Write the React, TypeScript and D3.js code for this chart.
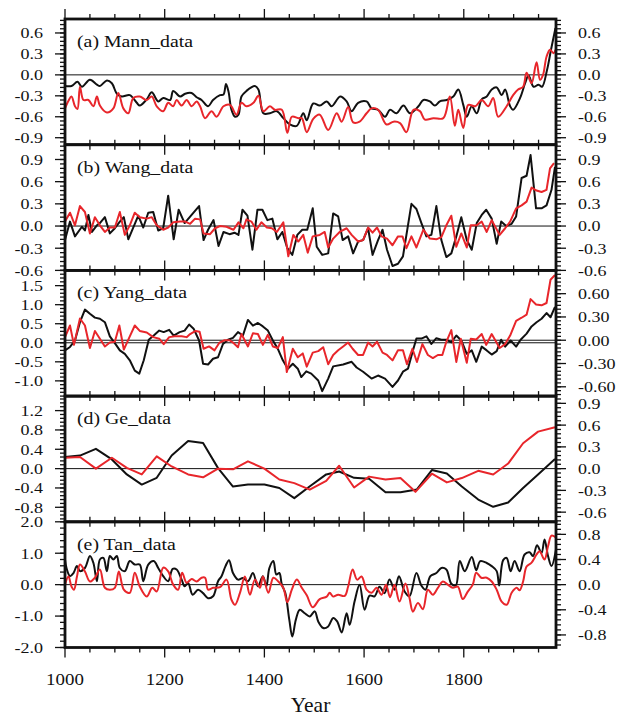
import React from "react";
import * as d3 from "d3";

// x axis
const xDomain = [1000, 1985];
const xMajorTicks = [1000, 1200, 1400, 1600, 1800];

// (a) Mann_data
const mannBlackYears = [1000, 1013, 1025, 1034, 1050, 1064, 1070, 1084, 1094, 1104, 1114, 1130, 1144, 1150, 1164, 1174, 1187, 1197, 1211, 1217, 1231, 1241, 1254, 1264, 1274, 1287, 1297, 1311, 1318, 1323, 1328, 1334, 1341, 1348, 1354, 1364, 1381, 1388, 1398, 1411, 1425, 1438, 1451, 1465, 1478, 1485, 1498, 1511, 1525, 1535, 1552, 1565, 1575, 1588, 1605, 1615, 1628, 1642, 1652, 1665, 1679, 1692, 1709, 1719, 1732, 1742, 1752, 1766, 1779, 1789, 1799, 1806, 1816, 1826, 1836, 1846, 1856, 1866, 1876, 1883, 1893, 1899, 1913, 1923, 1930, 1940, 1950, 1957, 1967, 1975, 1984];
const mannBlackVals = [-0.16, -0.16, -0.1, -0.17, -0.07, -0.14, -0.16, -0.08, -0.12, -0.27, -0.31, -0.29, -0.4, -0.44, -0.35, -0.25, -0.38, -0.33, -0.36, -0.23, -0.31, -0.27, -0.26, -0.32, -0.36, -0.45, -0.36, -0.29, -0.28, -0.13, -0.24, -0.5, -0.6, -0.57, -0.31, -0.23, -0.16, -0.21, -0.55, -0.55, -0.52, -0.62, -0.71, -0.73, -0.55, -0.65, -0.41, -0.44, -0.38, -0.45, -0.31, -0.38, -0.52, -0.4, -0.38, -0.48, -0.5, -0.6, -0.5, -0.55, -0.44, -0.55, -0.45, -0.36, -0.38, -0.44, -0.38, -0.36, -0.31, -0.21, -0.43, -0.6, -0.45, -0.55, -0.35, -0.31, -0.21, -0.18, -0.29, -0.21, -0.45, -0.5, -0.33, -0.12, -0.01, -0.17, -0.14, -0.17, 0.07, 0.36, 0.67];
const mannRedYears = [1000, 1007, 1013, 1020, 1025, 1030, 1037, 1047, 1057, 1064, 1070, 1084, 1097, 1107, 1117, 1127, 1137, 1150, 1164, 1174, 1184, 1197, 1207, 1217, 1224, 1234, 1244, 1254, 1264, 1271, 1281, 1294, 1304, 1318, 1331, 1344, 1354, 1364, 1378, 1388, 1398, 1411, 1421, 1435, 1446, 1455, 1468, 1475, 1485, 1498, 1511, 1528, 1545, 1555, 1568, 1578, 1591, 1605, 1615, 1628, 1645, 1659, 1672, 1685, 1699, 1712, 1722, 1739, 1759, 1772, 1782, 1789, 1799, 1809, 1823, 1836, 1849, 1859, 1869, 1886, 1899, 1909, 1919, 1926, 1936, 1946, 1953, 1959, 1966, 1973, 1980, 1984];
const mannRedVals = [-0.48, -0.37, -0.31, -0.45, -0.49, -0.17, -0.36, -0.36, -0.45, -0.31, -0.44, -0.54, -0.48, -0.26, -0.48, -0.55, -0.33, -0.31, -0.36, -0.31, -0.45, -0.52, -0.4, -0.45, -0.36, -0.44, -0.36, -0.45, -0.38, -0.45, -0.62, -0.52, -0.6, -0.45, -0.43, -0.57, -0.4, -0.45, -0.4, -0.3, -0.52, -0.45, -0.5, -0.5, -0.83, -0.6, -0.62, -0.62, -0.82, -0.63, -0.57, -0.79, -0.55, -0.67, -0.46, -0.68, -0.67, -0.55, -0.48, -0.5, -0.71, -0.67, -0.69, -0.82, -0.5, -0.52, -0.64, -0.62, -0.62, -0.31, -0.73, -0.5, -0.76, -0.43, -0.45, -0.36, -0.45, -0.33, -0.6, -0.45, -0.29, -0.21, -0.17, 0.03, -0.12, 0.18, -0.07, 0.0, 0.26, 0.36, 0.31, 0.36];

// (b) Wang_data
const wangBlackYears = [1000, 1010, 1020, 1034, 1040, 1047, 1054, 1064, 1070, 1080, 1090, 1100, 1110, 1118, 1127, 1147, 1157, 1167, 1177, 1187, 1197, 1207, 1218, 1228, 1240, 1254, 1269, 1278, 1287, 1298, 1308, 1318, 1330, 1340, 1348, 1356, 1366, 1376, 1386, 1396, 1406, 1416, 1426, 1436, 1446, 1456, 1466, 1476, 1486, 1497, 1505, 1516, 1528, 1538, 1548, 1557, 1568, 1578, 1588, 1598, 1608, 1617, 1628, 1637, 1646, 1657, 1668, 1678, 1695, 1705, 1715, 1725, 1735, 1745, 1755, 1765, 1775, 1785, 1795, 1806, 1816, 1826, 1836, 1845, 1856, 1866, 1875, 1885, 1896, 1905, 1916, 1926, 1934, 1945, 1956, 1966, 1976, 1983];
const wangBlackVals = [-0.19, 0.06, -0.14, -0.01, -0.06, 0.15, -0.08, 0.01, 0.04, 0.12, -0.1, -0.03, 0.06, 0.12, -0.18, 0.14, -0.02, 0.18, 0.19, -0.06, -0.03, 0.41, -0.18, 0.22, 0.04, 0.15, 0.27, -0.19, -0.05, 0.08, -0.27, -0.08, -0.11, -0.09, -0.12, 0.22, 0.14, -0.32, 0.22, 0.22, 0.08, 0.1, -0.18, -0.08, -0.3, -0.39, -0.12, -0.05, -0.05, 0.24, -0.28, -0.39, -0.37, 0.17, 0.13, -0.19, -0.14, -0.37, -0.21, -0.19, -0.03, -0.39, -0.19, -0.05, -0.32, -0.54, -0.51, -0.41, 0.3, 0.23, 0.04, -0.14, -0.12, 0.27, -0.19, -0.42, -0.37, -0.14, 0.12, -0.19, -0.32, 0.04, 0.15, 0.22, 0.1, -0.24, 0.06, 0.0, 0.03, 0.13, 0.65, 0.68, 0.96, 0.24, 0.24, 0.28, 0.49, 0.8];
const wangRedYears = [1000, 1010, 1020, 1030, 1040, 1050, 1060, 1070, 1080, 1090, 1100, 1110, 1120, 1130, 1140, 1150, 1164, 1174, 1184, 1197, 1207, 1217, 1231, 1241, 1251, 1261, 1271, 1278, 1291, 1301, 1311, 1324, 1338, 1348, 1358, 1364, 1374, 1384, 1394, 1405, 1415, 1425, 1438, 1448, 1458, 1468, 1478, 1487, 1497, 1511, 1521, 1528, 1538, 1551, 1565, 1575, 1588, 1598, 1608, 1617, 1626, 1635, 1646, 1657, 1668, 1677, 1685, 1695, 1705, 1719, 1732, 1745, 1755, 1765, 1775, 1785, 1795, 1806, 1814, 1826, 1836, 1846, 1856, 1872, 1883, 1893, 1905, 1916, 1926, 1936, 1946, 1956, 1966, 1973, 1981];
const wangRedVals = [0.06, 0.18, 0.01, 0.27, 0.19, -0.1, 0.12, 0.01, -0.08, -0.02, -0.02, 0.19, -0.12, 0.01, 0.18, 0.12, 0.1, 0.12, 0.01, -0.05, -0.02, 0.05, 0.06, 0.06, 0.03, 0.1, 0.09, -0.1, -0.11, -0.03, 0.0, -0.01, -0.05, 0.05, -0.03, 0.09, 0.06, -0.05, 0.05, -0.02, -0.03, -0.08, 0.05, -0.41, -0.12, -0.21, -0.12, -0.36, -0.14, -0.12, -0.08, -0.29, -0.17, -0.08, -0.03, -0.12, -0.21, -0.19, -0.02, -0.09, -0.02, -0.14, -0.17, -0.26, -0.14, -0.14, -0.3, -0.14, -0.29, -0.05, -0.17, -0.18, -0.15, 0.01, 0.14, -0.28, -0.1, -0.29, 0.01, 0.01, 0.06, -0.08, 0.08, -0.12, -0.03, 0.06, 0.24, 0.28, 0.33, 0.52, 0.48, 0.46, 0.49, 0.78, 0.85];

// (c) Yang_data (black on left axis, red on right axis)
const yangBlackYears = [1000, 1010, 1020, 1030, 1040, 1050, 1060, 1070, 1080, 1090, 1100, 1110, 1120, 1130, 1140, 1149, 1158, 1168, 1178, 1189, 1198, 1209, 1218, 1230, 1240, 1249, 1258, 1269, 1277, 1287, 1297, 1307, 1317, 1327, 1337, 1347, 1357, 1367, 1377, 1387, 1397, 1407, 1417, 1427, 1437, 1447, 1457, 1467, 1474, 1484, 1494, 1508, 1516, 1528, 1538, 1558, 1575, 1585, 1598, 1615, 1628, 1642, 1657, 1668, 1678, 1688, 1698, 1705, 1715, 1725, 1735, 1745, 1755, 1765, 1775, 1785, 1795, 1806, 1816, 1825, 1836, 1846, 1856, 1866, 1875, 1883, 1894, 1905, 1914, 1926, 1936, 1946, 1956, 1966, 1974, 1983];
const yangBlackVals = [-0.2, -0.11, 0.06, 0.54, 0.87, 0.76, 0.66, 0.63, 0.54, 0.17, -0.01, -0.2, -0.29, -0.46, -0.73, -0.81, -0.46, 0.08, 0.19, 0.32, 0.28, 0.34, 0.19, 0.28, 0.32, 0.48, 0.37, 0.06, -0.55, -0.57, -0.42, -0.38, -0.03, 0.08, 0.13, 0.28, 0.19, 0.6, 0.45, 0.52, 0.43, 0.32, 0.06, -0.16, -0.46, -0.68, -0.55, -0.68, -0.9, -0.75, -0.81, -0.99, -1.27, -0.94, -0.62, -0.57, -0.5, -0.65, -0.76, -0.94, -0.86, -0.94, -1.16, -0.99, -0.76, -0.68, -0.2, 0.11, 0.11, 0.17, -0.03, 0.12, 0.08, 0.08, 0.01, 0.19, 0.06, -0.29, -0.2, -0.5, -0.1, -0.2, -0.31, -0.22, 0.08, -0.1, 0.06, -0.1, 0.08, 0.24, 0.43, 0.54, 0.63, 0.78, 0.67, 0.94];
const yangRedYears = [1000, 1010, 1018, 1030, 1040, 1050, 1060, 1070, 1080, 1090, 1100, 1109, 1118, 1130, 1140, 1150, 1164, 1177, 1189, 1198, 1209, 1220, 1234, 1244, 1251, 1262, 1270, 1278, 1289, 1300, 1310, 1320, 1330, 1337, 1347, 1354, 1367, 1377, 1387, 1397, 1407, 1417, 1427, 1437, 1445, 1457, 1467, 1477, 1485, 1497, 1508, 1518, 1528, 1538, 1548, 1558, 1568, 1577, 1588, 1598, 1608, 1617, 1626, 1637, 1646, 1657, 1668, 1678, 1686, 1697, 1706, 1717, 1728, 1738, 1748, 1757, 1765, 1775, 1785, 1794, 1806, 1814, 1825, 1836, 1845, 1856, 1872, 1883, 1893, 1905, 1916, 1926, 1934, 1945, 1956, 1966, 1974, 1983];
const yangRedVals = [0.04, 0.19, -0.06, 0.28, 0.19, -0.1, 0.12, 0.02, -0.08, -0.03, -0.02, 0.19, -0.12, 0.05, 0.19, 0.12, 0.1, 0.04, 0.02, -0.05, 0.04, 0.05, 0.05, 0.04, 0.08, 0.12, 0.11, -0.11, -0.08, -0.13, -0.03, 0.0, 0.0, -0.03, -0.09, 0.08, -0.08, 0.09, 0.08, -0.06, 0.07, -0.08, -0.1, 0.04, -0.41, -0.11, -0.22, -0.17, -0.34, -0.16, -0.14, -0.09, -0.31, -0.19, -0.13, -0.08, -0.03, -0.11, -0.19, -0.19, -0.03, -0.08, -0.02, -0.16, -0.19, -0.26, -0.13, -0.13, -0.31, -0.11, -0.28, -0.05, -0.19, -0.23, -0.19, -0.19, -0.02, 0.13, -0.28, 0.02, -0.29, 0.02, 0.01, 0.08, -0.06, 0.08, -0.1, -0.05, 0.06, 0.25, 0.29, 0.33, 0.53, 0.46, 0.45, 0.48, 0.78, 0.84];

// (d) Ge_data (black on left axis, red on right axis)
const geBlackYears = [1000, 1030, 1062, 1094, 1124, 1154, 1184, 1214, 1247, 1277, 1307, 1337, 1367, 1400, 1430, 1460, 1492, 1524, 1550, 1580, 1610, 1643, 1673, 1706, 1736, 1766, 1796, 1829, 1859, 1889, 1919, 1949, 1983];
const geBlackVals = [0.24, 0.27, 0.41, 0.19, -0.12, -0.33, -0.19, 0.27, 0.57, 0.53, 0.01, -0.37, -0.33, -0.33, -0.4, -0.61, -0.36, -0.12, -0.06, -0.19, -0.21, -0.49, -0.49, -0.43, -0.03, -0.1, -0.37, -0.64, -0.79, -0.7, -0.4, -0.12, 0.2];
const geRedYears = [1000, 1030, 1062, 1094, 1124, 1154, 1184, 1214, 1247, 1277, 1307, 1337, 1367, 1400, 1430, 1460, 1491, 1524, 1550, 1580, 1610, 1643, 1673, 1703, 1736, 1766, 1796, 1829, 1859, 1889, 1919, 1949, 1983];
const geRedVals = [0.15, 0.16, 0.0, 0.15, 0.01, -0.08, 0.17, 0.03, -0.08, -0.12, 0.0, -0.01, 0.1, 0.0, -0.15, -0.2, -0.29, -0.17, 0.04, -0.26, -0.11, -0.15, -0.13, -0.32, -0.07, -0.19, -0.13, -0.03, -0.08, 0.07, 0.35, 0.51, 0.57];

// (e) Tan_data (black on left axis, red on right axis)
const tanBlackYears = [1000, 1003, 1010, 1017, 1024, 1030, 1040, 1050, 1057, 1064, 1070, 1077, 1084, 1090, 1097, 1104, 1110, 1120, 1130, 1140, 1150, 1157, 1167, 1178, 1187, 1197, 1207, 1216, 1224, 1234, 1240, 1247, 1256, 1267, 1277, 1287, 1297, 1307, 1314, 1322, 1329, 1337, 1347, 1357, 1367, 1377, 1387, 1397, 1404, 1410, 1418, 1424, 1430, 1435, 1442, 1450, 1456, 1463, 1471, 1481, 1491, 1501, 1508, 1518, 1528, 1538, 1546, 1555, 1565, 1571, 1581, 1591, 1601, 1611, 1621, 1631, 1641, 1651, 1661, 1670, 1681, 1691, 1705, 1715, 1723, 1733, 1745, 1755, 1765, 1775, 1784, 1792, 1802, 1816, 1825, 1833, 1846, 1856, 1866, 1871, 1879, 1886, 1894, 1902, 1912, 1922, 1932, 1939, 1947, 1956, 1962, 1969, 1976, 1985];
const tanBlackVals = [0.8, 0.53, 0.27, 0.37, 0.59, 0.43, 0.53, 0.91, 0.69, 0.11, 0.8, 0.85, 0.43, 0.91, 0.8, 0.91, 0.53, 0.43, 0.75, 0.64, 0.64, 0.11, 0.64, 0.75, 0.53, 0.27, 0.11, 0.5, 0.48, 0.16, -0.05, 0.05, -0.32, -0.16, -0.27, -0.43, -0.37, 0.11, 0.27, 0.59, 0.78, 0.37, 0.16, 0.21, 0.11, 0.37, -0.05, 0.27, -0.05, 0.53, 0.75, 0.32, 0.37, 0.0, -0.27, -1.12, -1.65, -1.12, -0.8, -0.91, -1.01, -0.85, -1.17, -1.38, -1.33, -1.06, -1.17, -1.52, -0.91, -1.28, -0.53, 0.0, -0.8, -0.35, -0.37, -0.07, -0.27, 0.16, -0.16, 0.27, -0.21, -0.37, 0.37, -0.03, -0.16, 0.27, 0.37, 0.53, 0.48, 0.03, -0.03, 0.75, 0.43, 0.88, 0.46, 0.75, 0.69, 0.59, 0.43, -0.03, 0.78, 0.85, 0.43, 0.75, 0.43, 0.96, 1.03, 0.91, 1.25, 1.01, 1.44, 0.91, 0.59, 1.12];
const tanRedYears = [1000, 1007, 1013, 1018, 1024, 1030, 1040, 1050, 1060, 1070, 1080, 1090, 1100, 1108, 1118, 1130, 1140, 1150, 1164, 1175, 1184, 1197, 1207, 1217, 1227, 1235, 1244, 1254, 1264, 1274, 1281, 1287, 1297, 1311, 1324, 1334, 1341, 1351, 1361, 1371, 1381, 1391, 1397, 1408, 1418, 1428, 1438, 1446, 1455, 1465, 1475, 1485, 1497, 1511, 1525, 1531, 1538, 1548, 1561, 1568, 1577, 1586, 1595, 1605, 1615, 1625, 1635, 1644, 1652, 1661, 1671, 1683, 1691, 1698, 1708, 1718, 1728, 1738, 1748, 1758, 1768, 1778, 1788, 1798, 1808, 1818, 1825, 1835, 1846, 1856, 1866, 1876, 1886, 1896, 1906, 1912, 1919, 1926, 1936, 1946, 1952, 1962, 1969, 1976, 1985];
const tanRedVals = [0.0, 0.13, -0.03, -0.08, 0.13, 0.32, 0.21, 0.05, 0.11, 0.24, -0.05, -0.08, -0.05, 0.21, -0.08, -0.13, 0.19, -0.03, -0.19, -0.05, -0.11, 0.27, 0.21, 0.0, -0.08, 0.19, 0.03, 0.09, 0.05, 0.11, 0.11, -0.08, -0.05, -0.04, 0.08, -0.24, -0.32, -0.13, 0.13, -0.16, 0.08, -0.05, 0.13, -0.13, 0.11, 0.05, -0.05, -0.28, -0.08, 0.08, -0.05, -0.17, -0.36, -0.23, -0.19, -0.13, -0.19, -0.16, -0.18, -0.03, 0.24, 0.08, 0.13, -0.08, -0.13, -0.05, -0.16, 0.0, -0.2, 0.0, -0.27, 0.02, -0.21, -0.43, -0.29, -0.39, -0.08, -0.16, -0.05, 0.05, 0.0, -0.05, -0.03, -0.23, -0.11, 0.0, 0.19, 0.11, 0.11, 0.05, -0.08, -0.27, -0.32, -0.13, -0.05, -0.09, 0.05, 0.29, 0.35, 0.48, 0.53, 0.4, 0.61, 0.78, 0.75];

// tick labels per axis
const mannTicks = [0.6, 0.3, 0.0, -0.3, -0.6, -0.9];
const wangTicks = [0.9, 0.6, 0.3, 0.0, -0.3, -0.6];
const yangLeftTicks = [1.5, 1.0, 0.5, 0.0, -0.5, -1.0];
const yangRightTicks = [0.6, 0.3, 0.0, -0.3, -0.6];
const geLeftTicks = [1.2, 0.8, 0.4, 0.0, -0.4, -0.8];
const geRightTicks = [0.9, 0.6, 0.3, 0.0, -0.3, -0.6];
const tanLeftTicks = [2.0, 1.0, 0.0, -1.0, -2.0];
const tanRightTicks = [0.8, 0.4, 0.0, -0.4, -0.8];

const W = 626;
const H = 715;
const left = 65;
const right = 556;
const top0 = 19;
const panelH = 125.7;
const RED = "#e8262b";
const BLACK = "#111";
const FONT = "'Liberation Serif', 'Times New Roman', serif";

type Axis = { domain: [number, number]; ticks: number[]; minor: number; digits: number };
type Panel = {
  title: string;
  black: [number[], number[]];
  red: [number[], number[]];
  left: Axis;
  right: Axis;
  smooth: boolean;
};

const panels: Panel[] = [
  {
    title: "(a) Mann_data",
    black: [mannBlackYears, mannBlackVals],
    red: [mannRedYears, mannRedVals],
    left: { domain: [-1.0, 0.8], ticks: mannTicks, minor: 0.06, digits: 1 },
    right: { domain: [-1.0, 0.8], ticks: mannTicks, minor: 0.06, digits: 1 },
    smooth: true,
  },
  {
    title: "(b) Wang_data",
    black: [wangBlackYears, wangBlackVals],
    red: [wangRedYears, wangRedVals],
    left: { domain: [-0.6, 1.1], ticks: wangTicks, minor: 0.06, digits: 1 },
    right: { domain: [-0.6, 1.1], ticks: wangTicks, minor: 0.06, digits: 1 },
    smooth: false,
  },
  {
    title: "(c) Yang_data",
    black: [yangBlackYears, yangBlackVals],
    red: [yangRedYears, yangRedVals],
    left: { domain: [-1.4, 1.9], ticks: yangLeftTicks, minor: 0.1, digits: 1 },
    right: { domain: [-0.72, 0.9], ticks: yangRightTicks, minor: 0.05, digits: 2 },
    smooth: false,
  },
  {
    title: "(d) Ge_data",
    black: [geBlackYears, geBlackVals],
    red: [geRedYears, geRedVals],
    left: { domain: [-1.1, 1.5], ticks: geLeftTicks, minor: 0.08, digits: 1 },
    right: { domain: [-0.733, 1.0], ticks: geRightTicks, minor: 0.06, digits: 1 },
    smooth: false,
  },
  {
    title: "(e) Tan_data",
    black: [tanBlackYears, tanBlackVals],
    red: [tanRedYears, tanRedVals],
    left: { domain: [-2.0, 2.0], ticks: tanLeftTicks, minor: 0.2, digits: 1 },
    right: { domain: [-1.0, 1.0], ticks: tanRightTicks, minor: 0.08, digits: 1 },
    smooth: true,
  },
];

const x = d3.scaleLinear().domain(xDomain).range([left, right]);
const xMinorTicks = d3.range(1000, 1951, 50);

function minorValues(domain: [number, number], step: number) {
  const k0 = Math.ceil(domain[0] / step - 1e-6);
  const k1 = Math.floor(domain[1] / step + 1e-6);
  return d3.range(k0, k1 + 1).map((k) => k * step);
}

function fmt(v: number, digits: number) {
  return v.toFixed(digits).replace("-0.00", "0.00").replace(/^-0\.0$/, "0.0");
}

const PanelView: React.FC<{ p: Panel; i: number }> = ({ p, i }) => {
  const y0 = top0 + i * panelH;
  const y1 = y0 + panelH;
  const yl = d3.scaleLinear().domain(p.left.domain).range([y1, y0]);
  const yr = d3.scaleLinear().domain(p.right.domain).range([y1, y0]);
  const curve = p.smooth ? d3.curveCatmullRom.alpha(0.5) : d3.curveLinear;
  const lineL = d3.line<number>().x((_, k) => x(p.black[0][k])).y((v) => yl(v)).curve(curve);
  const lineR = d3.line<number>().x((_, k) => x(p.red[0][k])).y((v) => yr(v)).curve(curve);
  const clipId = `clip-${i}`;
  const zeroL = yl(0);
  const zeroR = yr(0);
  return (
    <g>
      <defs>
        <clipPath id={clipId}>
          <rect x={left} y={y0} width={right - left} height={panelH} />
        </clipPath>
      </defs>
      <g clipPath={`url(#${clipId})`}>
        <line x1={left} x2={right} y1={zeroL} y2={zeroL} stroke={BLACK} strokeWidth={1} />
        {Math.abs(zeroR - zeroL) > 0.5 && (
          <line x1={left} x2={right} y1={zeroR} y2={zeroR} stroke={BLACK} strokeWidth={1} />
        )}
        <path d={lineL(p.black[1]) || ""} fill="none" stroke={BLACK} strokeWidth={2} strokeLinejoin="round" />
        <path d={lineR(p.red[1]) || ""} fill="none" stroke={RED} strokeWidth={2} strokeLinejoin="round" />
      </g>

      {/* x ticks, outward on top and bottom */}
      <g stroke={BLACK} strokeWidth={1.3}>
        {xMinorTicks.map((t) => {
          const major = xMajorTicks.includes(t);
          const len = major ? 10 : 5;
          return (
            <g key={t}>
              <line x1={x(t)} x2={x(t)} y1={y0} y2={y0 - len} />
              <line x1={x(t)} x2={x(t)} y1={y1} y2={y1 + len} />
            </g>
          );
        })}
        {minorValues(p.left.domain, p.left.minor).map((v) => (
          <line key={`lm${v}`} x1={left} x2={left - 5} y1={yl(v)} y2={yl(v)} />
        ))}
        {p.left.ticks.map((v) => (
          <line key={`lM${v}`} x1={left} x2={left - 10} y1={yl(v)} y2={yl(v)} />
        ))}
        {minorValues(p.right.domain, p.right.minor).map((v) => (
          <line key={`rm${v}`} x1={right} x2={right + 5} y1={yr(v)} y2={yr(v)} />
        ))}
        {p.right.ticks.map((v) => (
          <line key={`rM${v}`} x1={right} x2={right + 10} y1={yr(v)} y2={yr(v)} />
        ))}
      </g>

      <g fontFamily={FONT} fontSize={15} fill={BLACK}>
        {p.left.ticks.map((v) => (
          <text key={`lt${v}`} transform={`translate(${left - 22},${yl(v)}) scale(1.2,1)`} textAnchor="end" dy="0.36em">
            {fmt(v, p.left.digits)}
          </text>
        ))}
        {p.right.ticks.map((v) => (
          <text key={`rt${v}`} transform={`translate(${right + 22},${yr(v)}) scale(1.2,1)`} textAnchor="start" dy="0.36em">
            {fmt(v, p.right.digits)}
          </text>
        ))}
      </g>

      <text transform={`translate(77,${y0 + 28}) scale(1.2,1)`} fontFamily={FONT} fontSize={16.5} fill={BLACK}>
        {p.title}
      </text>

      <rect x={left} y={y0} width={right - left} height={panelH} fill="none" stroke={BLACK} strokeWidth={2.8} />
    </g>
  );
};

export default function App() {
  const bottom = top0 + panels.length * panelH;
  return (
    <div style={{ position: "absolute", left: 0, top: 0 }}>
      <svg width={W} height={H} style={{ display: "block", background: "#fff" }}>
        {panels.map((p, i) => (
          <PanelView key={p.title} p={p} i={i} />
        ))}
        <g fontFamily={FONT} fill={BLACK}>
          {xMajorTicks.map((t) => (
            <text key={t} transform={`translate(${x(t)},685) scale(1.08,1)`} textAnchor="middle" fontSize={17.5}>
              {t}
            </text>
          ))}
          <text x={(left + right) / 2} y={bottom + 64} textAnchor="middle" fontSize={21.5}>
            Year
          </text>
        </g>
      </svg>
    </div>
  );
}
